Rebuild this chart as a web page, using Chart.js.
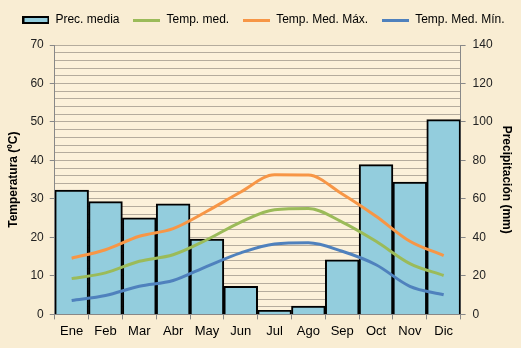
<!DOCTYPE html>
<html>
<head>
<meta charset="utf-8">
<script src="https://cdn.jsdelivr.net/npm/chart.js@4/dist/chart.umd.min.js"></script>
<style>
  body { margin: 0; background: #f9edd3; }
  #wrap { width: 521px; height: 348px; }
</style>
</head>
<body>
<div id="wrap"><canvas id="c" width="521" height="348"></canvas></div>
<script>
// data
const months = ['Ene', 'Feb', 'Mar', 'Abr', 'May', 'Jun', 'Jul', 'Ago', 'Sep', 'Oct', 'Nov', 'Dic'];
const precMedia = [64.6, 58.6, 50.2, 57.4, 39.2, 14.6, 2.1, 4.3, 28.3, 77.8, 68.8, 101.2];
const tempMed = [9.3, 10.8, 13.8, 15.5, 19.4, 24.0, 27.2, 27.5, 24.0, 19.0, 13.2, 10.1];
const tempMax = [14.6, 16.8, 20.3, 22.3, 26.8, 31.8, 36.3, 36.2, 31.3, 25.5, 19.0, 15.3];
const tempMin = [3.6, 4.9, 7.3, 8.8, 12.5, 16.0, 18.3, 18.6, 16.4, 12.9, 7.3, 5.1];

const FONT = "'Liberation Sans', Arial, sans-serif";

// little legend swatches
function swatch(kind, color) {
  const cv = document.createElement('canvas');
  cv.width = 27; cv.height = 8;
  const g = cv.getContext('2d');
  if (kind === 'bar') {
    g.fillStyle = color;
    g.fillRect(1, 1, 25, 6);
    g.strokeStyle = '#000';
    g.lineWidth = 2;
    g.strokeRect(1, 1, 25, 6);
  } else {
    g.fillStyle = color;
    g.fillRect(0, 3, 27, 3);
  }
  return cv;
}

const bgPlugin = {
  id: 'bg',
  beforeInit(chart) {
    // extra room under the legend
    const fit = chart.legend.fit;
    chart.legend.fit = function () {
      fit.call(this);
      this.height += 9;
    };
  },
  beforeDraw(chart) {
    const ctx = chart.ctx;
    ctx.save();
    ctx.fillStyle = '#f9edd3';
    ctx.fillRect(0, 0, chart.width, chart.height);
    const a = chart.chartArea;
    ctx.fillStyle = '#fcf1da';
    ctx.fillRect(a.left, a.top, a.right - a.left, a.bottom - a.top);
    ctx.restore();
  }
};

const lineDs = (label, data, color) => ({
  type: 'line',
  label: label,
  data: data,
  yAxisID: 'y',
  borderColor: color,
  backgroundColor: color,
  borderWidth: 3,
  pointRadius: 0,
  cubicInterpolationMode: 'monotone',
  order: 1,
  pointStyle: swatch('line', color)
});

new Chart(document.getElementById('c'), {
  type: 'bar',
  data: {
    labels: months,
    datasets: [
      {
        label: 'Prec. media',
        data: precMedia,
        yAxisID: 'y1',
        backgroundColor: '#93cddd',
        borderColor: '#000',
        borderWidth: 2,
        barPercentage: 1,
        categoryPercentage: 1,
        order: 2,
        pointStyle: swatch('bar', '#93cddd')
      },
      lineDs('Temp. med.', tempMed, '#9bbb59'),
      lineDs('Temp. Med. Máx.', tempMax, '#f79646'),
      lineDs('Temp. Med. Mín.', tempMin, '#4f81bd')
    ]
  },
  options: {
    responsive: false,
    animation: false,
    layout: { padding: { left: 6, right: 0, top: 0, bottom: 5 } },
    plugins: {
      tooltip: { enabled: false },
      legend: {
        position: 'top',
        labels: {
          usePointStyle: true,
          pointStyleWidth: 27,
          boxHeight: 8,
          padding: 14,
          color: '#000',
          font: { family: FONT, size: 12 },
          sort: (a, b) => a.datasetIndex - b.datasetIndex
        }
      }
    },
    scales: {
      x: {
        grid: { drawOnChartArea: false, color: '#888', tickLength: 5 },
        border: { color: '#888', width: 1 },
        ticks: { color: '#000', font: { family: FONT, size: 13 }, padding: 4 }
      },
      y: {
        position: 'left',
        min: 0, max: 70,
        ticks: {
          stepSize: 2,
          autoSkip: false,
          color: '#222',
          font: { family: FONT, size: 12 },
          padding: 6,
          callback: v => (v % 10 === 0 ? v : '')
        },
        grid: {
          color: '#b5ac9d',
          tickLength: 5,
          tickColor: ctx => (ctx.tick && ctx.tick.value % 10 === 0 ? '#888' : 'rgba(0,0,0,0)')
        },
        border: { color: '#888', width: 1 },
        title: {
          display: true,
          text: 'Temperatura (ºC)',
          color: '#000',
          font: { family: FONT, size: 12, weight: 'bold' },
          padding: { top: 0, bottom: 4 }
        }
      },
      y1: {
        position: 'right',
        min: 0, max: 140,
        ticks: {
          stepSize: 20,
          color: '#222',
          font: { family: FONT, size: 12 },
          padding: 7
        },
        grid: { drawOnChartArea: false, color: '#888', tickLength: 5 },
        border: { color: '#888', width: 1 },
        title: {
          display: true,
          text: 'Precipitación (mm)',
          color: '#000',
          font: { family: FONT, size: 12, weight: 'bold' },
          padding: { top: 7, bottom: 0 }
        }
      }
    }
  },
  plugins: [bgPlugin]
});
</script>
</body>
</html>
